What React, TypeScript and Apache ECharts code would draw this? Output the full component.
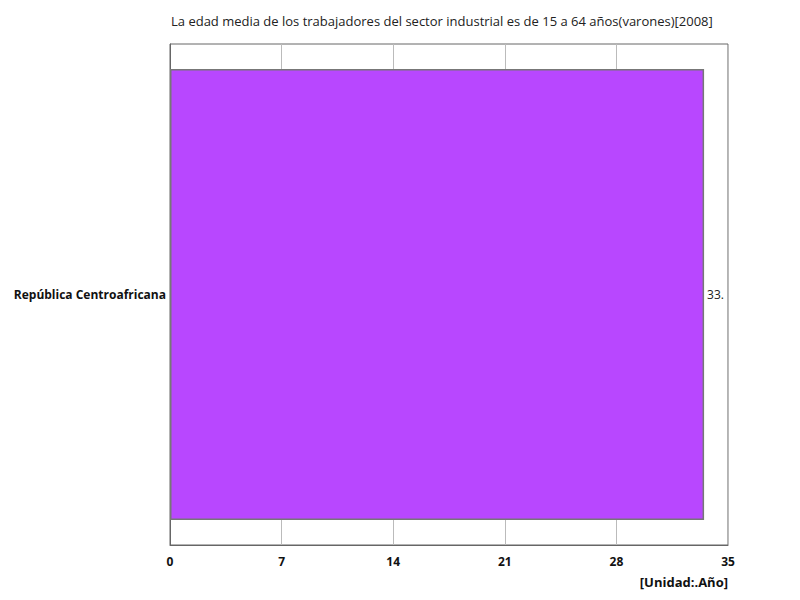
import React, { useEffect, useRef } from 'react';
import * as echarts from 'echarts';

const categories = ['República Centroafricana'];
const values = [33.5];
const xTicks = [0, 7, 14, 21, 28, 35];

const App: React.FC = () => {
  const chartRef = useRef<HTMLDivElement | null>(null);

  useEffect(() => {
    const chart = echarts.init(chartRef.current!, null, { renderer: 'svg' });

    const option = {
      animation: false,
      textStyle: { fontFamily: '"Open Sans", "Noto Sans", sans-serif' },
      title: {
        text: 'La edad media de los trabajadores del sector industrial es de 15 a 64 años(varones)[2008]',
        left: 166,
        top: 9,
        textStyle: { fontSize: 13, fontWeight: 'normal', color: '#222' },
      },
      grid: {
        left: 170,
        right: 72,
        top: 44,
        bottom: 55,
        show: true,
        borderColor: '#666',
        borderWidth: 1,
        containLabel: false,
      },
      xAxis: {
        type: 'value',
        min: xTicks[0],
        max: xTicks[xTicks.length - 1],
        interval: 7,
        axisLine: { show: true, lineStyle: { color: '#666' } },
        axisTick: { show: false },
        splitLine: { show: true, lineStyle: { color: '#bbb' } },
        axisLabel: { color: '#111', fontWeight: 'bold', fontSize: 12, margin: 10 },
        name: '[Unidad:.Año]',
        nameLocation: 'end',
        nameGap: 0,
        nameTextStyle: {
          fontWeight: 'bold',
          fontSize: 13,
          color: '#111',
          align: 'right',
          verticalAlign: 'top',
          padding: [30, 0, 0, 0],
        },
      },
      yAxis: {
        type: 'category',
        data: categories,
        axisLine: { show: true, lineStyle: { color: '#666' } },
        axisTick: { show: false },
        axisLabel: { color: '#111', fontWeight: 'bold', fontSize: 12, margin: 4 },
      },
      series: [
        {
          type: 'bar',
          data: values,
          barWidth: '90%',
          itemStyle: { color: '#b847ff', borderColor: '#777', borderWidth: 1.5 },
          label: {
            show: true,
            position: 'right',
            distance: 3,
            color: '#222',
            fontSize: 12,
            width: 20,
            overflow: 'truncate',
            ellipsis: '',
          },
        },
      ],
    };

    chart.setOption(option);
    return () => {
      chart.dispose();
    };
  }, []);

  return <div ref={chartRef} style={{ width: '800px', height: '600px', margin: '-8px' }} />;
};

export default App;
